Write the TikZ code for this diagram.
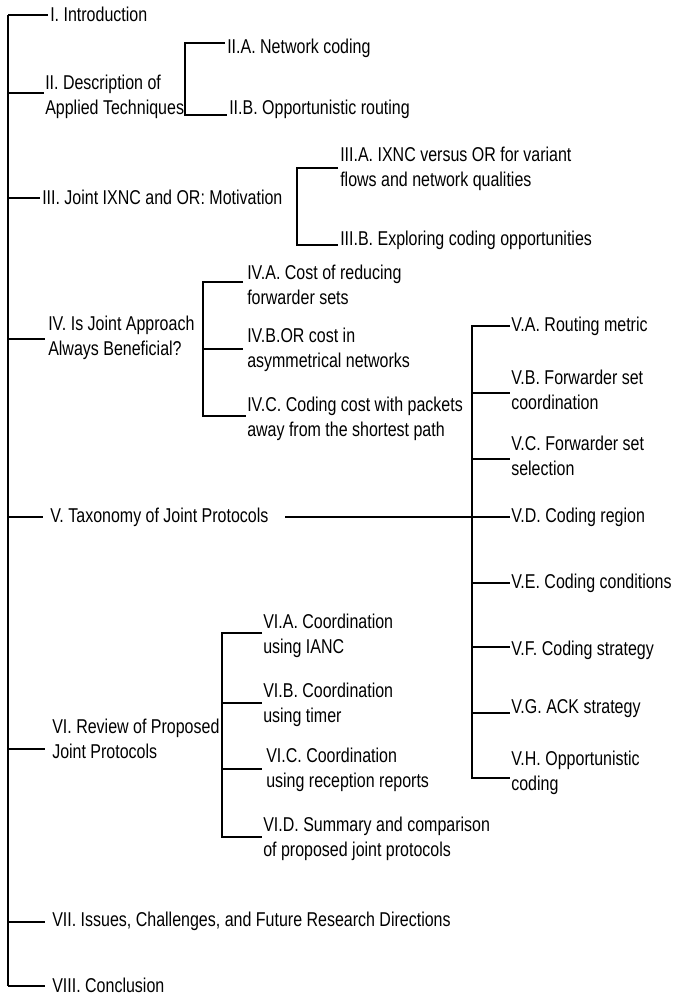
\documentclass[tikz,border=0pt]{standalone}
\usepackage{fontspec}
\setmainfont{Liberation Sans}[FakeStretch=0.8]
\begin{document}
\begin{tikzpicture}[x=0.75pt,y=-0.75pt,
  ln/.style={line width=1.5pt},
  txt/.style={anchor=west,inner xsep=0pt,inner ysep=0pt,align=left,
    font=\fontsize{15pt}{18.8pt}\selectfont}]
\useasboundingbox (0,0) rectangle (674,996);
% ---- level-1 text nodes
\node[txt] (nI)    at (50,14)  {I. Introduction};
\node[txt] (nII)   at (45,97)  {II. Description of\\Applied Techniques};
\node[txt] (nIII)  at (42,197) {III. Joint IXNC and OR: Motivation};
\node[txt] (nIV)   at (48,338) {IV. Is Joint Approach\\Always Beneficial?};
\node[txt] (nV)    at (50,517) {V. Taxonomy of Joint Protocols};
\node[txt] (nVI)   at (52,739) {VI. Review of Proposed\\Joint Protocols};
\node[txt] (nVII)  at (52,921) {VII. Issues, Challenges, and Future Research Directions};
\node[txt] (nVIII) at (52,985) {VIII. Conclusion};
% ---- level-2 text nodes
\node[txt] (nIIA)  at (227,48)  {II.A. Network coding};
\node[txt] (nIIB)  at (229,109) {II.B. Opportunistic routing};
\node[txt] (nIIIA) at (340,169) {III.A. IXNC versus OR for variant\\flows and network qualities};
\node[txt] (nIIIB) at (340,240) {III.B. Exploring coding opportunities};
\node[txt] (nIVA)  at (247,285) {IV.A. Cost of reducing\\forwarder sets};
\node[txt] (nIVB)  at (247,350) {IV.B.OR cost in\\asymmetrical networks};
\node[txt] (nIVC)  at (247,419) {IV.C. Coding cost with packets\\away from the shortest path};
\node[txt] (nVA)   at (511,326) {V.A. Routing metric};
\node[txt] (nVB)   at (511,390) {V.B. Forwarder set\\coordination};
\node[txt] (nVC)   at (511,456) {V.C. Forwarder set\\selection};
\node[txt] (nVD)   at (511,517) {V.D. Coding region};
\node[txt] (nVE)   at (511,583) {V.E. Coding conditions};
\node[txt] (nVF)   at (511,650) {V.F. Coding strategy};
\node[txt] (nVG)   at (511,709) {V.G. ACK strategy};
\node[txt] (nVH)   at (511,773) {V.H. Opportunistic\\coding};
\node[txt] (nVIA)  at (263,636) {VI.A. Coordination\\using IANC};
\node[txt] (nVIB)  at (263,705) {VI.B. Coordination\\using timer};
\node[txt] (nVIC)  at (266,770) {VI.C. Coordination\\using reception reports};
\node[txt] (nVID)  at (263,839) {VI.D. Summary and comparison\\of proposed joint protocols};
% ---- junction coordinates
\coordinate (tTop) at (8,15);
\coordinate (jII)  at (8,93);
\coordinate (jIII) at (8,198);
\coordinate (jIV)  at (8,339);
\coordinate (jV)   at (8,517);
\coordinate (jVI)  at (8,749);
\coordinate (jVII) at (8,922);
\coordinate (tBot) at (8,986);
\coordinate (bIIt) at (185,43);   \coordinate (bIIb) at (185,115);
\coordinate (bIIIt) at (297,168); \coordinate (bIIIb) at (297,245);
\coordinate (bIVt) at (203,282);  \coordinate (bIVm) at (203,349); \coordinate (bIVb) at (203,416);
\coordinate (bVt) at (472,326);  \coordinate (bVB) at (472,393); \coordinate (bVC) at (472,459);
\coordinate (bVD) at (472,517);  \coordinate (bVE) at (472,583); \coordinate (bVF) at (472,647);
\coordinate (bVG) at (472,713);  \coordinate (bVb) at (472,778);
\coordinate (bVIt) at (222,633); \coordinate (bVIB) at (222,703); \coordinate (bVIC) at (222,769);
\coordinate (bVIb) at (222,837);
\coordinate (vStart) at (285,517);
% ---- trunk
\draw[ln] (tTop) -- (tBot);
% ---- level-1 connectors
\draw[ln] (tTop) -- ([xshift=-1.5pt]tTop -| nI.west);
\draw[ln] (jII)  -- ([xshift=-0.75pt]jII -| nII.west);
\draw[ln] (jIII) -- ([xshift=-1.5pt]jIII -| nIII.west);
\draw[ln] (jIV)  -- ([xshift=-2.25pt]jIV -| nIV.west);
\draw[ln] (jV)   -- ([xshift=-5pt]jV -| nV.west);
\draw[ln] (jVI)  -- ([xshift=-5pt]jVI -| nVI.west);
\draw[ln] (jVII) -- ([xshift=-5pt]jVII -| nVII.west);
\draw[ln] (tBot) -- ([xshift=-5pt]tBot -| nVIII.west);
% ---- II bracket
\draw[ln] (nII.east |- bIIb) -- (bIIb);
\draw[ln] ([xshift=-1.5pt]bIIt -| nIIA.west) -- (bIIt) -- (bIIb) -- ([xshift=-1.5pt]bIIb -| nIIB.west);
% ---- III bracket
\draw[ln] ([xshift=-1.5pt]bIIIt -| nIIIA.west) -- (bIIIt) -- (bIIIb) -- ([xshift=-1.5pt]bIIIb -| nIIIB.west);
% ---- IV bracket
\draw[ln] ([xshift=-3pt]bIVt -| nIVA.west) -- (bIVt) -- (bIVb) -- ([xshift=-1pt]bIVb -| nIVC.west);
\draw[ln] (bIVm) -- ([xshift=-3pt]bIVm -| nIVB.west);
% ---- V bracket
\draw[ln] (vStart) -- (bVD);
\draw[ln] ([xshift=-0.75pt]bVt -| nVA.west) -- (bVt) -- (bVb) -- ([xshift=-0.75pt]bVb -| nVH.west);
\foreach \b/\n in {bVB/nVB,bVC/nVC,bVD/nVD,bVE/nVE,bVF/nVF,bVG/nVG}
  \draw[ln] (\b) -- ([xshift=-0.75pt]\b -| \n.west);
% ---- VI bracket
\draw[ln] ([xshift=-0.75pt]bVIt -| nVIA.west) -- (bVIt) -- (bVIb) -- ([xshift=-0.75pt]bVIb -| nVID.west);
\draw[ln] (bVIB) -- ([xshift=-0.75pt]bVIB -| nVIB.west);
\draw[ln] (bVIC) -- ([xshift=-3pt]bVIC -| nVIC.west);
\end{tikzpicture}
\end{document}
